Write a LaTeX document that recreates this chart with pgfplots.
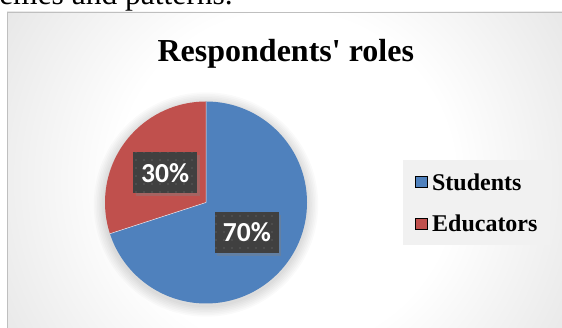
\documentclass[border=0pt]{standalone}
\usepackage{pgfplots}
\pgfplotsset{compat=1.18}
\usepackage{pgfplotstable}
\usetikzlibrary{shadows,patterns.meta}
\usepackage{fontspec}
\setmainfont{Liberation Serif}
\newfontfamily\plainserif{Liberation Serif}
\newfontfamily\lblfont{Carlito}
\definecolor{pieblue}{HTML}{4F81BD}
\definecolor{piered}{HTML}{C0504D}
\definecolor{lblbg}{HTML}{404040}
\definecolor{lbldot}{HTML}{5C5C5C}
\definecolor{bgedge}{HTML}{C6C6C6}
\definecolor{framecol}{HTML}{BFBFBF}
\definecolor{legbg}{HTML}{F1F1F1}
\pgfdeclareradialshading{bgshade}{\pgfpointorigin}{color(0bp)=(white); color(14bp)=(white); color(46bp)=(bgedge); color(50bp)=(bgedge)}
\tikzset{lbl/.style={fill=lblbg, minimum width=64pt, minimum height=41pt, inner sep=0pt,
    text=white, font=\lblfont\bfseries\fontsize{27.5}{32}\selectfont,
    drop shadow={shadow xshift=2.5pt, shadow yshift=-3pt, opacity=0.4},
    postaction={pattern={Dots[distance=8pt,radius=0.9pt]}, pattern color=lbldot}}}

\pgfplotstableread{
role value
Students 70
Educators 30
}\roledata

\begin{document}
\begin{tikzpicture}[x=1pt,y=1pt]
\useasboundingbox (0,0) rectangle (562,328);
\node[anchor=base east, inner sep=0pt, font=\fontsize{31.5}{36}\selectfont] at (233,323) {themes and patterns.};
\begin{scope}
\clip (7,-20) rectangle (580,316);
\shade[shading=bgshade] (-14,-152) rectangle (586,448);
\end{scope}
\draw[framecol, line width=1pt] (7.5,-20) -- (7.5,315.5) -- (580,315.5);
\node[anchor=base, inner sep=0pt, font=\plainserif\fontsize{32}{38}\selectfont\bfseries] at (285.8,266.3) {Respondents' roles};
\pgfplotstablegetelem{0}{value}\of\roledata \let\vS\pgfplotsretval
\pgfplotstablegetelem{1}{value}\of\roledata \let\vE\pgfplotsretval
\pgfmathsetmacro\tot{\vS+\vE}
\pgfmathsetmacro\fS{\vS/\tot}
\pgfmathsetmacro\fE{\vE/\tot}
\pgfmathsetmacro\aS{90-360*\fS}
\pgfmathsetmacro\mS{90-180*\fS}
\pgfmathsetmacro\mE{\aS-180*\fE}
\pgfmathtruncatemacro\pS{round(100*\fS)}
\pgfmathtruncatemacro\pE{round(100*\fE)}
\pgfmathsetmacro\xS{50.5*cos(\mS)}
\pgfmathsetmacro\yS{50.5*sin(\mS)}
\pgfmathsetmacro\xE{50.5*cos(\mE)}
\pgfmathsetmacro\yE{50.5*sin(\mE)}
\begin{axis}[x=1pt, y=1pt, xmin=-101, xmax=101, ymin=-101, ymax=101,
  hide axis, clip=false, at={(206,125.5)}, anchor=center,
  legend style={at={(1.474,0.710)}, anchor=north west, fill=legbg, draw=none,
    inner xsep=12.3pt, inner ysep=13pt, row sep=24.7pt,
    font=\fontsize{24}{28}\selectfont\bfseries,
    nodes={inner sep=0pt, text height=17pt, text depth=0pt},
    cells={anchor=west}},
  legend image code/.code={\fill[#1] (0pt,-5.5pt) rectangle (11.5pt,5.5pt); \path (16.5pt,0pt);}
]
\addlegendimage{fill=pieblue}\addlegendentry{Students}
\addlegendimage{fill=piered}\addlegendentry{Educators}
\pgfplotsinvokeforeach{1,...,7}{\fill[black, opacity=0.02] (axis cs:0,-2) circle[radius={101pt+1.6pt*#1}];}
\fill[pieblue] (axis cs:0,0) -- ++(90:101pt) arc[start angle=90, end angle=\aS, radius=101pt] -- cycle;
\fill[piered] (axis cs:0,0) -- ++(\aS:101pt) arc[start angle=\aS, end angle=-270, radius=101pt] -- cycle;
\draw[white!85!pieblue, line width=0.5pt] (axis cs:0,0) -- ++(\aS:101pt) (axis cs:0,0) -- ++(90:101pt);
\node[lbl] at (axis cs:\xS,\yS) {\pS\%};
\node[lbl] at (axis cs:\xE,\yE) {\pE\%};
\end{axis}
\end{tikzpicture}
\end{document}
